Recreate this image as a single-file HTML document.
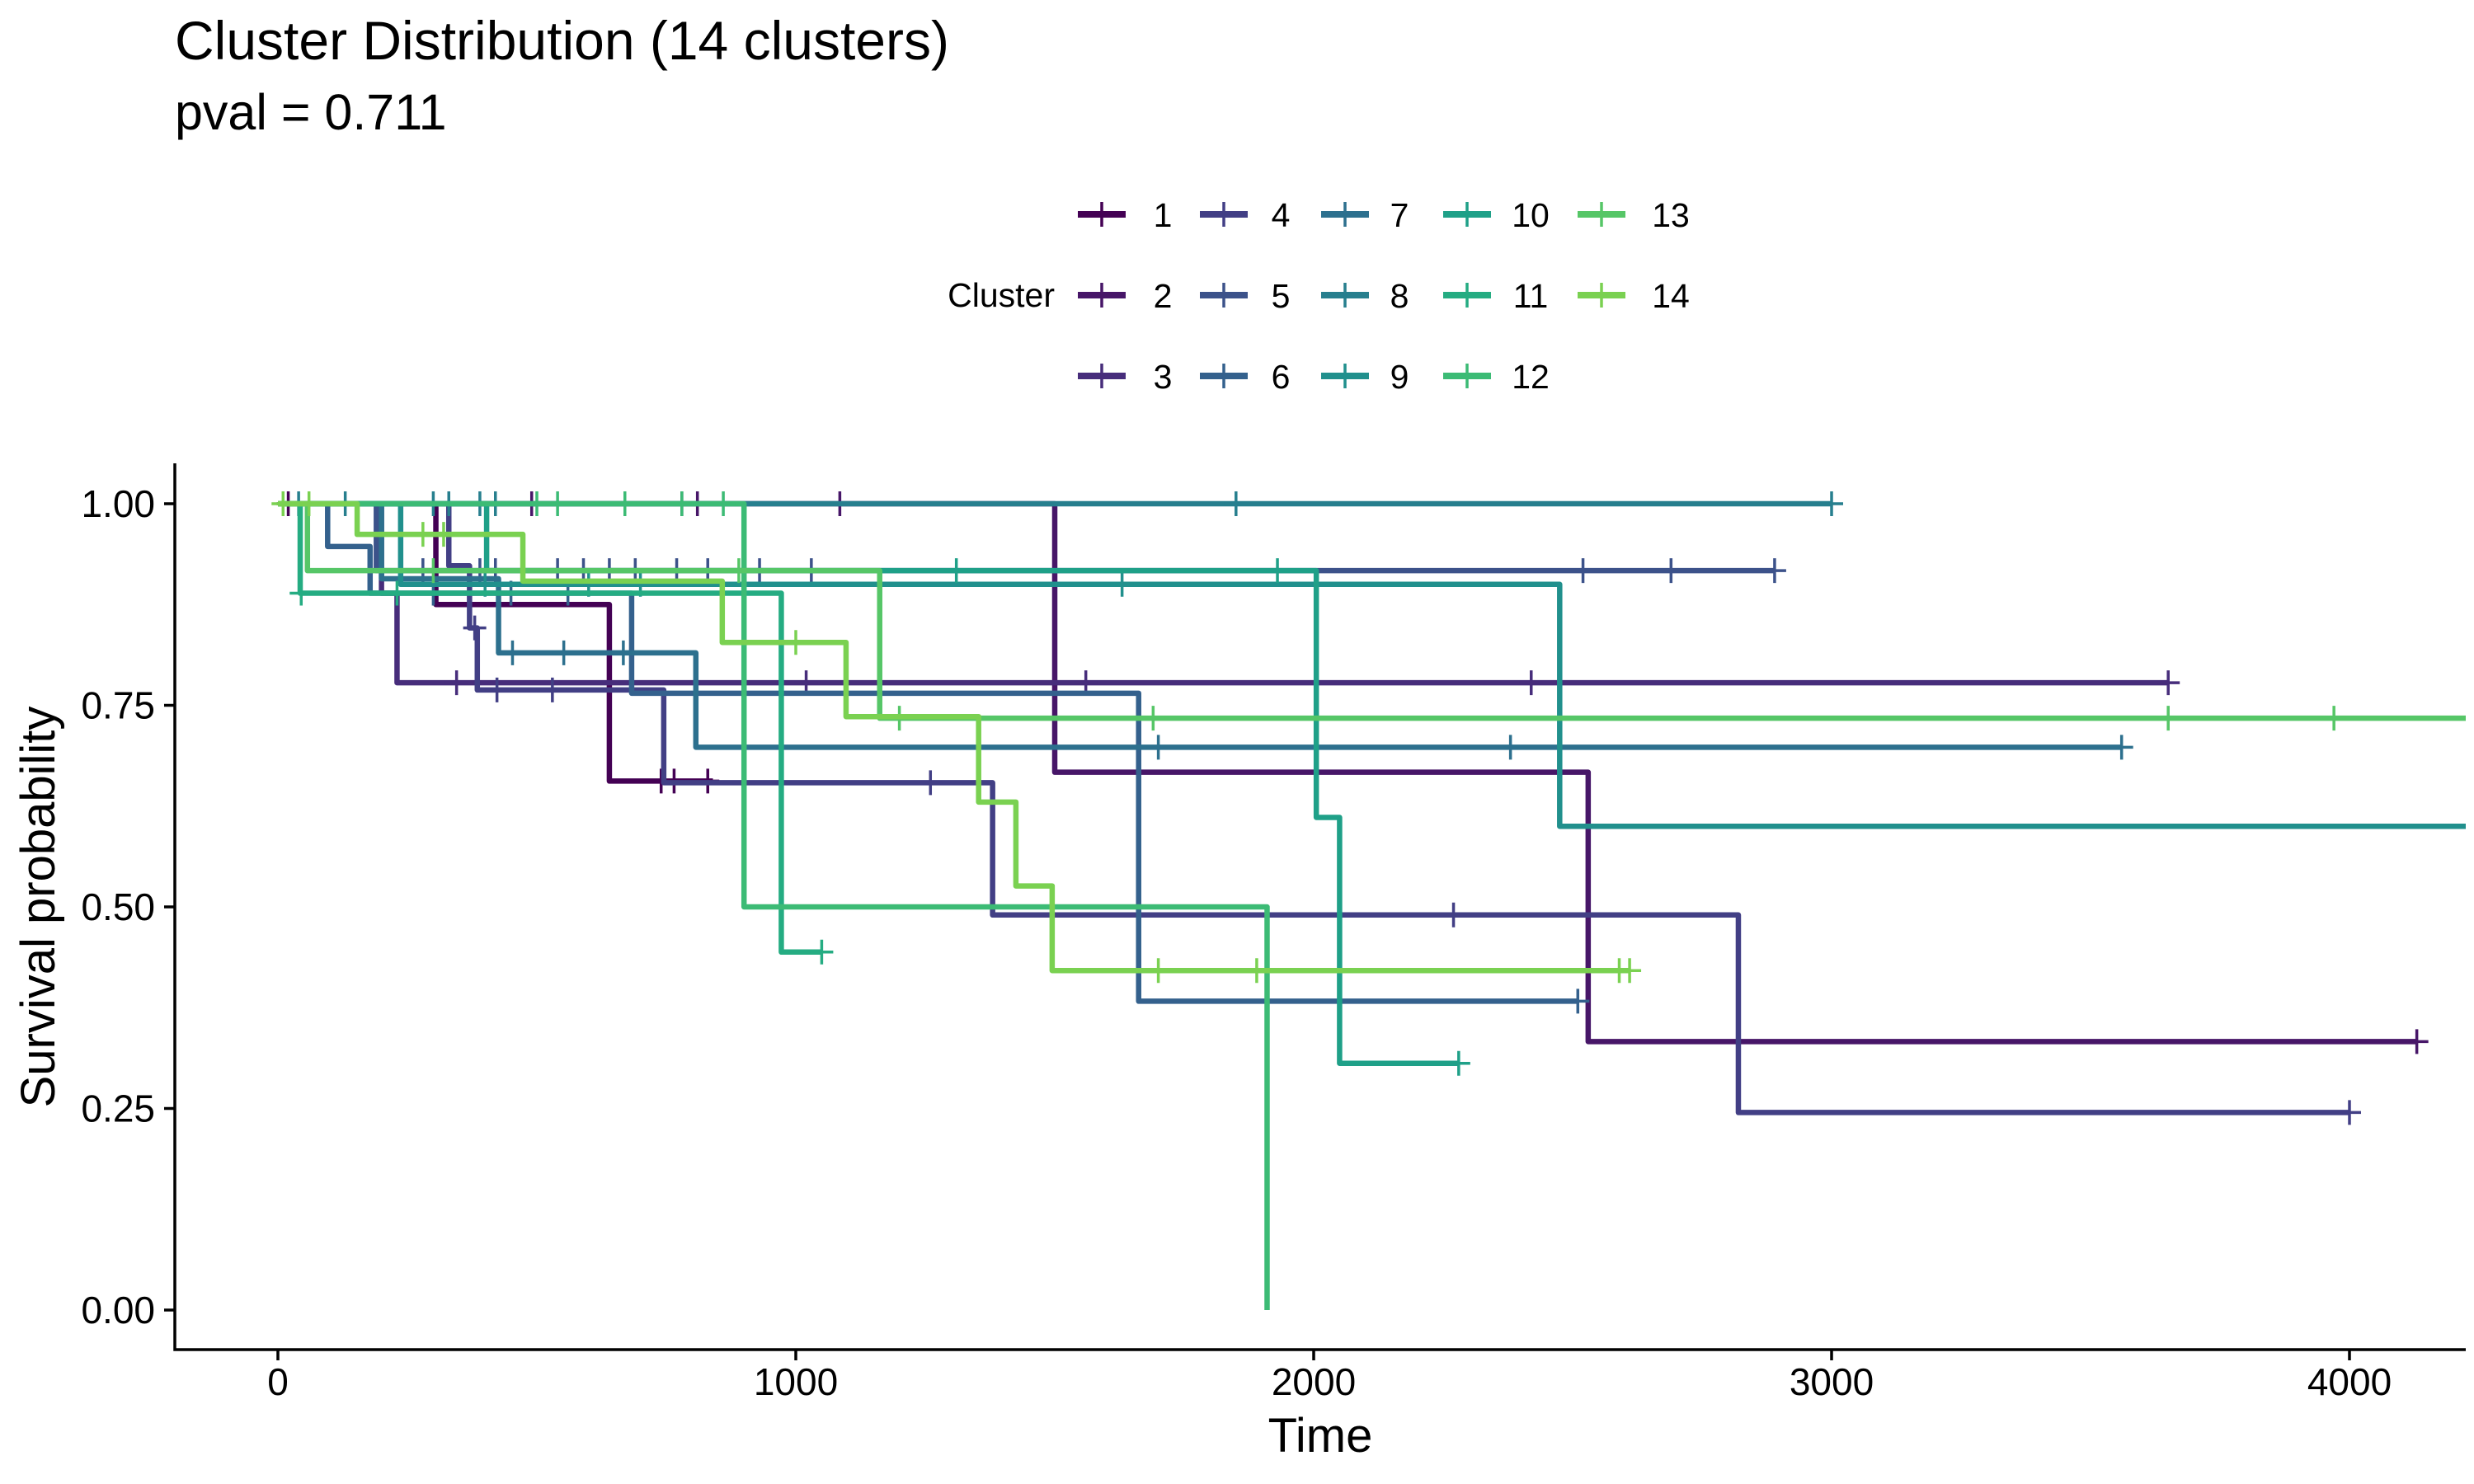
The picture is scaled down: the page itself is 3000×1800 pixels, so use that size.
<!DOCTYPE html>
<html><head><meta charset="utf-8"><style>
html,body{margin:0;padding:0;background:#fff}
svg{display:block;font-family:"Liberation Sans",Arial,sans-serif}
</style></head><body>
<svg id="chart" width="3000" height="1800" viewBox="0 0 3000 1800" xmlns="http://www.w3.org/2000/svg">
<defs><clipPath id="pc"><rect x="213" y="540" width="2777" height="1095"/></clipPath></defs>
<text x="212" y="72" font-size="66" fill="#000">Cluster Distribution (14 clusters)</text>
<text x="212" y="157" font-size="61" fill="#000">pval = 0.711</text>
<g id="legend"><text x="1279" y="372" font-size="41" text-anchor="end">Cluster</text></g>
<g id="axes"></g>
<g id="plot" clip-path="url(#pc)"></g>
</svg>
<script>
const clusters=['1','2','3','4','5','6','7','8','9','10','11','12','13','14'];
const colors=['#440154','#471668','#472D7B','#423F85','#3C528A','#34618D','#2D708E','#277F8E','#21908D','#1FA088','#25AC82','#3CBB75','#56C667','#7AD151'];
const stepTimes=[[305,640],[1500,2530],[200,230],[330,370,385,745,1380,2820],[190],[96,178,683,1662],[200,426,807],[],[237,2475],[403,2005,2050],[43,972],[900,1910],[57,1162],[153,473,858,1097,1353,1425,1495]];
const stepSurv=[[0.875,0.656],[0.667,0.333],[0.889,0.778],[0.923,0.846,0.769,0.654,0.49,0.245],[0.917],[0.947,0.889,0.765,0.383],[0.907,0.815,0.698],[],[0.9,0.6],[0.917,0.611,0.306],[0.889,0.444],[0.5,0],[0.917,0.734],[0.962,0.904,0.828,0.736,0.630,0.526,0.421]];
const endTimes=[840,4130,3650,4000,2890,2510,3560,3000,4400,2280,1050,1910,4400,2610];
const censorTimes=[[20,740,765,830],[330,490,780,810,1085,4130],[345,1020,1560,2420,3650],[380,423,530,900,1260,2270,4000],[280,390,420,540,590,640,690,770,830,930,1030,2520,2690,2890],[300,450,560,2510],[453,552,667,1700,2380,3560],[40,130,300,330,390,420,1850,3000],[400,600,700,1630],[1310,1930,2280],[45,230,900,1050],[500,540,670,780,860],[300,890,1200,1690,3650,3970],[10,60,280,320,1000,1700,1890,2590,2610]];
const xTicks=[0,1000,2000,3000,4000];
const yTicks=[0,0.25,0.5,0.75,1];
const yTickLabels=['0.00','0.25','0.50','0.75','1.00'];
const X=t=>337+t*0.628, Y=s=>1589-s*978;
const NS='http://www.w3.org/2000/svg';
function mk(tag,attrs,parent){const e=document.createElementNS(NS,tag);for(const k in attrs)e.setAttribute(k,attrs[k]);parent.appendChild(e);return e;}
const plot=document.getElementById('plot'),axes=document.getElementById('axes'),legend=document.getElementById('legend');
function survAt(i,t){let s=1;stepTimes[i].forEach((st,j)=>{if(t>=st)s=stepSurv[i][j];});return s;}
clusters.forEach((c,i)=>{
  let d='M'+X(0)+','+Y(1);
  stepTimes[i].forEach((st,j)=>{d+=' H'+X(st)+' V'+Y(stepSurv[i][j]);});
  d+=' H'+X(endTimes[i]);
  const p=mk('path',{d:d,fill:'none',stroke:colors[i],'stroke-width':6.5,'stroke-linejoin':'round'},plot);
  
  
  censorTimes[i].forEach(t=>{
    const x=X(t),y=Y(survAt(i,t));
    const m=mk('path',{d:`M${x-14},${y} H${x+14} M${x},${y-15} V${y+15}`,stroke:colors[i],'stroke-width':3.5,fill:'none'},plot);
    
    
  });
  const col=Math.floor(i/3),row=i%3;
  const kx=[1307,1455,1602,1750,1913][col],lx=[1410,1553,1697,1856,2026][col],ky=[260,358,456][row];
  const g=mk('g',{},legend);
  
  
  mk('path',{d:`M${kx},${ky} H${kx+58}`,stroke:colors[i],'stroke-width':8,fill:'none'},g);
  mk('path',{d:`M${kx+29},${ky-15} V${ky+15}`,stroke:colors[i],'stroke-width':3.5},g);
  mk('text',{x:lx,y:ky+15,'font-size':41,'text-anchor':'middle'},g).textContent=c;
});
mk('path',{d:'M212,562 V1637 H2990',stroke:'#000','stroke-width':3.5,fill:'none'},axes);
xTicks.forEach(t=>{
  mk('line',{x1:X(t),x2:X(t),y1:1637,y2:1650,stroke:'#000','stroke-width':3.5},axes);
  const tx=mk('text',{x:X(t),y:1692,'font-size':46,'text-anchor':'middle',fill:'#000'},axes);tx.textContent=t;
  
  
});
yTicks.forEach((v,k)=>{
  mk('line',{x1:199,x2:212,y1:Y(v),y2:Y(v),stroke:'#000','stroke-width':3.5},axes);
  const ty=mk('text',{x:188,y:Y(v)+16,'font-size':46,'text-anchor':'end',fill:'#000'},axes);ty.textContent=yTickLabels[k];
  
  
});
const xt=mk('text',{x:1601,y:1761,'font-size':58,'text-anchor':'middle'},axes);xt.textContent='Time';


const yt=mk('text',{x:0,y:0,'font-size':58,'text-anchor':'middle',transform:'translate(66,1100) rotate(-90)'},axes);yt.textContent='Survival probability';


</script>
</body></html>
